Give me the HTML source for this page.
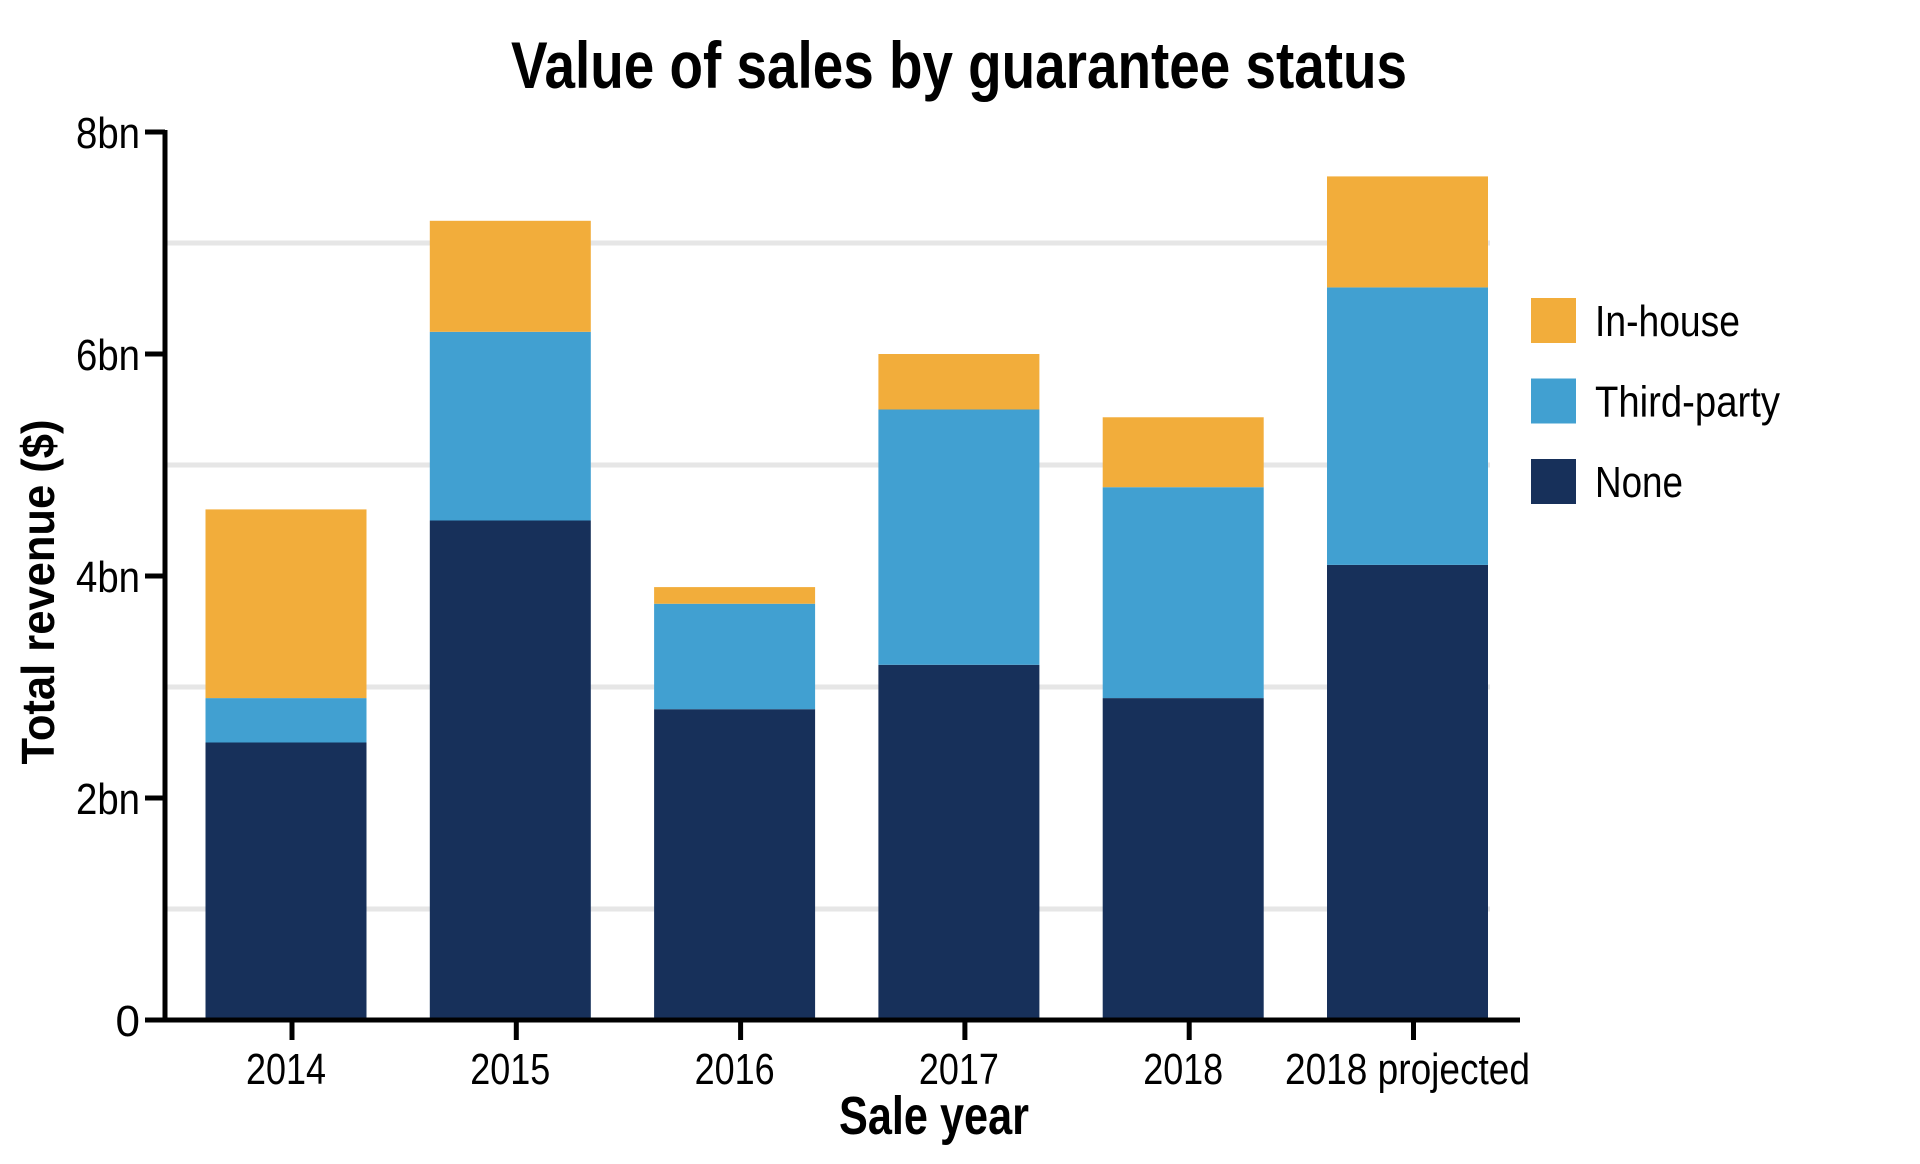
<!DOCTYPE html>
<html><head><meta charset="utf-8"><style>
html,body{margin:0;padding:0;background:#fff;width:1920px;height:1164px;overflow:hidden}
svg{display:block}
text{font-family:"Liberation Sans",sans-serif;fill:#000}
</style></head><body>
<svg id="chart" width="1920" height="1164" viewBox="0 0 1920 1164">
<text x="511" y="88" font-size="66" font-weight="bold" textLength="896" lengthAdjust="spacingAndGlyphs">Value of sales by guarantee status</text>
<g id="grid"></g>
<g id="bars"></g>
<g id="axes"></g>
<text transform="translate(54,592) rotate(-90)" text-anchor="middle" font-size="46" font-weight="bold" textLength="345" lengthAdjust="spacingAndGlyphs">Total revenue ($)</text>
<text x="934" y="1134" text-anchor="middle" font-size="54" font-weight="bold" textLength="190" lengthAdjust="spacingAndGlyphs">Sale year</text>
<g id="legend"></g>
</svg>
<script>
const categories = ["2014","2015","2016","2017","2018","2018 projected"];
const noneVals = [2.5, 4.5, 2.8, 3.2, 2.9, 4.1];
const thirdVals = [0.4, 1.7, 0.95, 2.3, 1.9, 2.5];
const inhouseVals = [1.7, 1.0, 0.15, 0.5, 0.63, 1.0];
const yTicks = [0, 2, 4, 6, 8];
const yTickLabels = ["0", "2bn", "4bn", "6bn", "8bn"];
const gridVals = [1, 3, 5, 7];
const seriesNames = ["In-house", "Third-party", "None"];

const NS = "http://www.w3.org/2000/svg";
const colors = {"None":"#17305a","Third-party":"#41a0d1","In-house":"#f2ad3b"};
const X0 = 165, X1 = 1520, Y0 = 1020, PX_PER = 111;
const step = 224.3, firstCenter = 292, barW = 161, barOffset = -6;
function y(v){ return Y0 - v * PX_PER; }
function xc(i){ return firstCenter + i * step; }
function mk(tag, attrs, parent){
  const e = document.createElementNS(NS, tag);
  for (const k in attrs) e.setAttribute(k, attrs[k]);
  parent.appendChild(e);
  return e;
}
const grid = document.getElementById('grid');
gridVals.forEach(v => {
  const l = mk('line', {x1: X0, x2: 1490, y1: y(v), y2: y(v), stroke: '#e6e6e6', 'stroke-width': 5}, grid);
  
  
});
const bars = document.getElementById('bars');
categories.forEach((c, i) => {
  const segs = [["None", noneVals[i]], ["Third-party", thirdVals[i]], ["In-house", inhouseVals[i]]];
  let base = 0;
  segs.forEach(([name, v]) => {
    const r = mk('rect', {x: xc(i) + barOffset - barW / 2, y: y(base + v), width: barW, height: v * PX_PER, fill: colors[name]}, bars);
    
    
    base += v;
  });
});
const axes = document.getElementById('axes');
const ya = mk('line', {x1: X0, x2: X0, y1: y(8) - 2, y2: Y0 + 2, stroke: '#000', 'stroke-width': 5}, axes);


const xa = mk('line', {x1: X0 - 2, x2: X1, y1: Y0, y2: Y0, stroke: '#000', 'stroke-width': 5}, axes);


yTicks.forEach((v, i) => {
  const t = mk('line', {x1: X0 - 20, x2: X0, y1: y(v), y2: y(v), stroke: '#000', 'stroke-width': 5}, axes);
  
  
  const tx = mk('text', {x: 140, y: y(v) + 16, 'text-anchor': 'end', 'font-size': 44}, axes);
  if (yTickLabels[i].length > 1) { tx.setAttribute('textLength', 64); tx.setAttribute('lengthAdjust', 'spacingAndGlyphs'); }
  tx.textContent = yTickLabels[i];
  
  
});
categories.forEach((c, i) => {
  const t = mk('line', {x1: xc(i), x2: xc(i), y1: Y0, y2: Y0 + 20, stroke: '#000', 'stroke-width': 5}, axes);
  
  
  const tx = mk('text', {x: xc(i) - 6, y: 1084, 'text-anchor': 'middle', 'font-size': 44}, axes);
  if (c.length > 4) { tx.setAttribute('textLength', 245); tx.setAttribute('lengthAdjust', 'spacingAndGlyphs'); }
  else { tx.setAttribute('textLength', 80); tx.setAttribute('lengthAdjust', 'spacingAndGlyphs'); }
  tx.textContent = c;
  
  
});
const legend = document.getElementById('legend');
const lenW = {"In-house": 145, "Third-party": 185, "None": 88};
seriesNames.forEach((n, i) => {
  const yy = 298 + i * 80.5;
  const r = mk('rect', {x: 1531, y: yy, width: 45, height: 45, fill: colors[n]}, legend);
  
  
  const t = mk('text', {x: 1595, y: yy + 38, 'font-size': 44, textLength: lenW[n], lengthAdjust: 'spacingAndGlyphs'}, legend);
  t.textContent = n;
  
  
});
</script>
</body></html>
